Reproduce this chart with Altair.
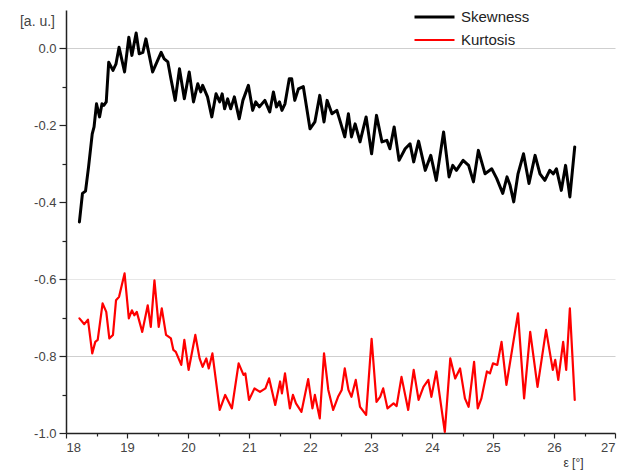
import altair as alt
import pandas as pd

# Skewness trace
skew_x = [18.22, 18.27, 18.32, 18.37, 18.43, 18.46, 18.50, 18.55, 18.59, 18.62,
          18.66, 18.70, 18.77, 18.82, 18.87, 18.96, 19.03, 19.08, 19.15, 19.20,
          19.26, 19.31, 19.42, 19.56, 19.61, 19.67, 19.72, 19.79, 19.86, 19.94,
          20.02, 20.09, 20.16, 20.21, 20.24, 20.32, 20.39, 20.46, 20.52, 20.56,
          20.60, 20.65, 20.70, 20.76, 20.84, 20.90, 20.99, 21.06, 21.11, 21.17,
          21.26, 21.34, 21.40, 21.45, 21.50, 21.54, 21.59, 21.66, 21.70, 21.75,
          21.81, 21.89, 22.00, 22.08, 22.16, 22.23, 22.28, 22.36, 22.44, 22.49,
          22.57, 22.63, 22.68, 22.74, 22.82, 22.92, 23.01, 23.09, 23.18, 23.26,
          23.31, 23.38, 23.46, 23.56, 23.64, 23.70, 23.78, 23.89, 23.98, 24.07,
          24.19, 24.28, 24.34, 24.40, 24.51, 24.60, 24.68, 24.76, 24.87, 24.98,
          25.06, 25.16, 25.23, 25.28, 25.34, 25.41, 25.50, 25.59, 25.69, 25.77,
          25.85, 25.93, 25.99, 26.04, 26.12, 26.19, 26.26, 26.34]
skew_y = [-0.451, -0.377, -0.371, -0.308, -0.222, -0.204, -0.144, -0.178, -0.144, -0.148,
          -0.139, -0.036, -0.057, -0.040, 0.003, -0.061, 0.029, -0.018, 0.040, -0.014,
          -0.010, 0.025, -0.061, -0.010, -0.027, -0.035, -0.079, -0.135, -0.053, -0.131,
          -0.061, -0.139, -0.092, -0.113, -0.096, -0.126, -0.178, -0.118, -0.139, -0.118,
          -0.157, -0.131, -0.157, -0.126, -0.183, -0.135, -0.096, -0.161, -0.139, -0.152,
          -0.135, -0.165, -0.113, -0.152, -0.139, -0.161, -0.144, -0.079, -0.079, -0.135,
          -0.105, -0.099, -0.209, -0.191, -0.122, -0.191, -0.135, -0.170, -0.161, -0.187,
          -0.230, -0.170, -0.230, -0.196, -0.243, -0.178, -0.274, -0.174, -0.243, -0.239,
          -0.261, -0.204, -0.291, -0.261, -0.248, -0.295, -0.241, -0.317, -0.278, -0.343,
          -0.217, -0.334, -0.304, -0.317, -0.291, -0.304, -0.347, -0.265, -0.326, -0.313,
          -0.338, -0.377, -0.334, -0.356, -0.399, -0.326, -0.274, -0.351, -0.278, -0.326,
          -0.343, -0.317, -0.326, -0.313, -0.369, -0.304, -0.386, -0.256]

# Kurtosis trace
kurt_x = [18.22, 18.30, 18.36, 18.43, 18.48, 18.52, 18.60, 18.66, 18.71, 18.77,
          18.82, 18.87, 18.96, 19.03, 19.08, 19.12, 19.16, 19.25, 19.34, 19.39,
          19.45, 19.52, 19.57, 19.64, 19.72, 19.76, 19.80, 19.89, 19.94, 20.01,
          20.12, 20.19, 20.24, 20.30, 20.34, 20.40, 20.52, 20.61, 20.72, 20.83,
          20.91, 20.94, 21.00, 21.09, 21.18, 21.27, 21.33, 21.43, 21.51, 21.54,
          21.59, 21.67, 21.72, 21.77, 21.86, 21.97, 22.04, 22.08, 22.16, 22.23,
          22.30, 22.38, 22.46, 22.52, 22.57, 22.63, 22.68, 22.75, 22.82, 22.92,
          23.01, 23.09, 23.15, 23.20, 23.27, 23.37, 23.42, 23.50, 23.61, 23.70,
          23.78, 23.86, 23.94, 23.99, 24.07, 24.21, 24.30, 24.38, 24.46, 24.54,
          24.60, 24.69, 24.75, 24.81, 24.90, 24.95, 25.00, 25.07, 25.14, 25.22,
          25.34, 25.41, 25.51, 25.61, 25.73, 25.80, 25.87, 25.98, 26.02, 26.07,
          26.15, 26.20, 26.26, 26.34]
kurt_y = [-0.702, -0.717, -0.705, -0.793, -0.763, -0.758, -0.663, -0.685, -0.754, -0.745,
          -0.655, -0.646, -0.585, -0.702, -0.681, -0.694, -0.685, -0.737, -0.668, -0.724,
          -0.603, -0.724, -0.676, -0.745, -0.754, -0.784, -0.789, -0.823, -0.758, -0.836,
          -0.745, -0.806, -0.828, -0.806, -0.832, -0.793, -0.940, -0.901, -0.936, -0.819,
          -0.849, -0.845, -0.914, -0.884, -0.893, -0.884, -0.858, -0.927, -0.866, -0.897,
          -0.845, -0.936, -0.901, -0.923, -0.945, -0.860, -0.936, -0.901, -0.962, -0.793,
          -0.888, -0.940, -0.906, -0.888, -0.832, -0.888, -0.906, -0.862, -0.932, -0.953,
          -0.755, -0.919, -0.906, -0.884, -0.936, -0.923, -0.930, -0.854, -0.940, -0.836,
          -0.914, -0.880, -0.862, -0.906, -0.840, -0.997, -0.806, -0.858, -0.832, -0.910,
          -0.932, -0.815, -0.936, -0.910, -0.840, -0.845, -0.819, -0.823, -0.763, -0.875,
          -0.757, -0.689, -0.910, -0.737, -0.880, -0.806, -0.732, -0.836, -0.810, -0.862,
          -0.763, -0.836, -0.676, -0.914]

series_names = ["Skewness", "Kurtosis"]
series_colors = ["#000000", "#ff0000"]
series_widths = [3.0, 2.2]

x_ticks = [18, 18.5, 19, 19.5, 20, 20.5, 21, 21.5, 22, 22.5, 23, 23.5, 24,
           24.5, 25, 25.5, 26, 26.5, 27]
y_ticks = [-1.0, -0.9, -0.8, -0.7, -0.6, -0.5, -0.4, -0.3, -0.2, -0.1, 0.0]

df = pd.concat([
    pd.DataFrame({"series": series_names[0], "x": skew_x, "y": skew_y}),
    pd.DataFrame({"series": series_names[1], "x": kurt_x, "y": kurt_y}),
], ignore_index=True)

FONT = "Liberation Sans"
minus_fix = "replace(format(datum.value, '.1f'), '\u2212', '-')"

x_axis = alt.Axis(
    values=x_ticks,
    labelExpr="datum.value % 1 != 0 ? '' : format(datum.value, 'd')",
    tickSize={"condition": {"test": "datum.value % 1 != 0", "value": 3}, "value": 5},
    grid=False,
    title="\u03b5 [\u00b0]",
    titleX=507, titleY=29, titleAlign="center", titleBaseline="middle",
    titleFontSize=12, titleFontWeight="normal", titleColor="#333333", titleFont=FONT,
    labelPadding=3,
)

y_axis = alt.Axis(
    values=y_ticks,
    labelExpr="round(datum.value * 10) % 2 != 0 ? '' : " + minus_fix,
    tickSize={"condition": {"test": "round(datum.value * 10) % 2 != 0", "value": 4}, "value": 7},
    grid=True,
    gridColor="#cfcfcf",
    gridWidth=1,
    gridOpacity={
        "condition": [
            {"test": "abs(datum.value) < 0.01 || abs(datum.value + 0.8) < 0.01", "value": 1},
            {"test": "abs(datum.value + 0.6) < 0.01", "value": 0.5},
        ],
        "value": 0,
    },
    title="[a. u.]",
    titleAngle=0, titleX=-29, titleY=11, titleAlign="center", titleBaseline="middle",
    titleFontSize=14, titleFontWeight="normal", titleColor="#444444", titleFont=FONT,
    labelPadding=3,
)

chart = (
    alt.Chart(df)
    .mark_line(strokeJoin="round", strokeCap="round")
    .encode(
        x=alt.X("x:Q", scale=alt.Scale(domain=[18, 27], nice=False, zero=False), axis=x_axis),
        y=alt.Y("y:Q", scale=alt.Scale(domain=[-1.0, 0.1], nice=False, zero=False), axis=y_axis),
        color=alt.Color(
            "series:N",
            scale=alt.Scale(domain=series_names, range=series_colors),
            legend=alt.Legend(
                title=None, orient="none", legendX=347, legendY=-1,
                symbolType="stroke", symbolSize=1600, symbolStrokeWidth=2.6,
                clipHeight=16, rowPadding=7, labelOffset=5, padding=0,
                labelFont=FONT, labelFontSize=15, labelColor="#222222",
            ),
        ),
        strokeWidth=alt.StrokeWidth(
            "series:N",
            scale=alt.Scale(domain=series_names, range=series_widths),
            legend=None,
        ),
        detail="series:N",
    )
    .properties(
        width=549, height=423,
        padding={"left": 66, "top": 10, "right": 10, "bottom": 40},
        autosize="none",
    )
    .configure_view(stroke=None)
    .configure_axis(
        labelFont=FONT, labelFontSize=13, labelColor="#444444",
        domainColor="#222222", domainWidth=1.5,
        tickColor="#222222", tickWidth=1.2,
    )
)

chart.save("out.html", embed_options={"renderer": "svg", "actions": False})
